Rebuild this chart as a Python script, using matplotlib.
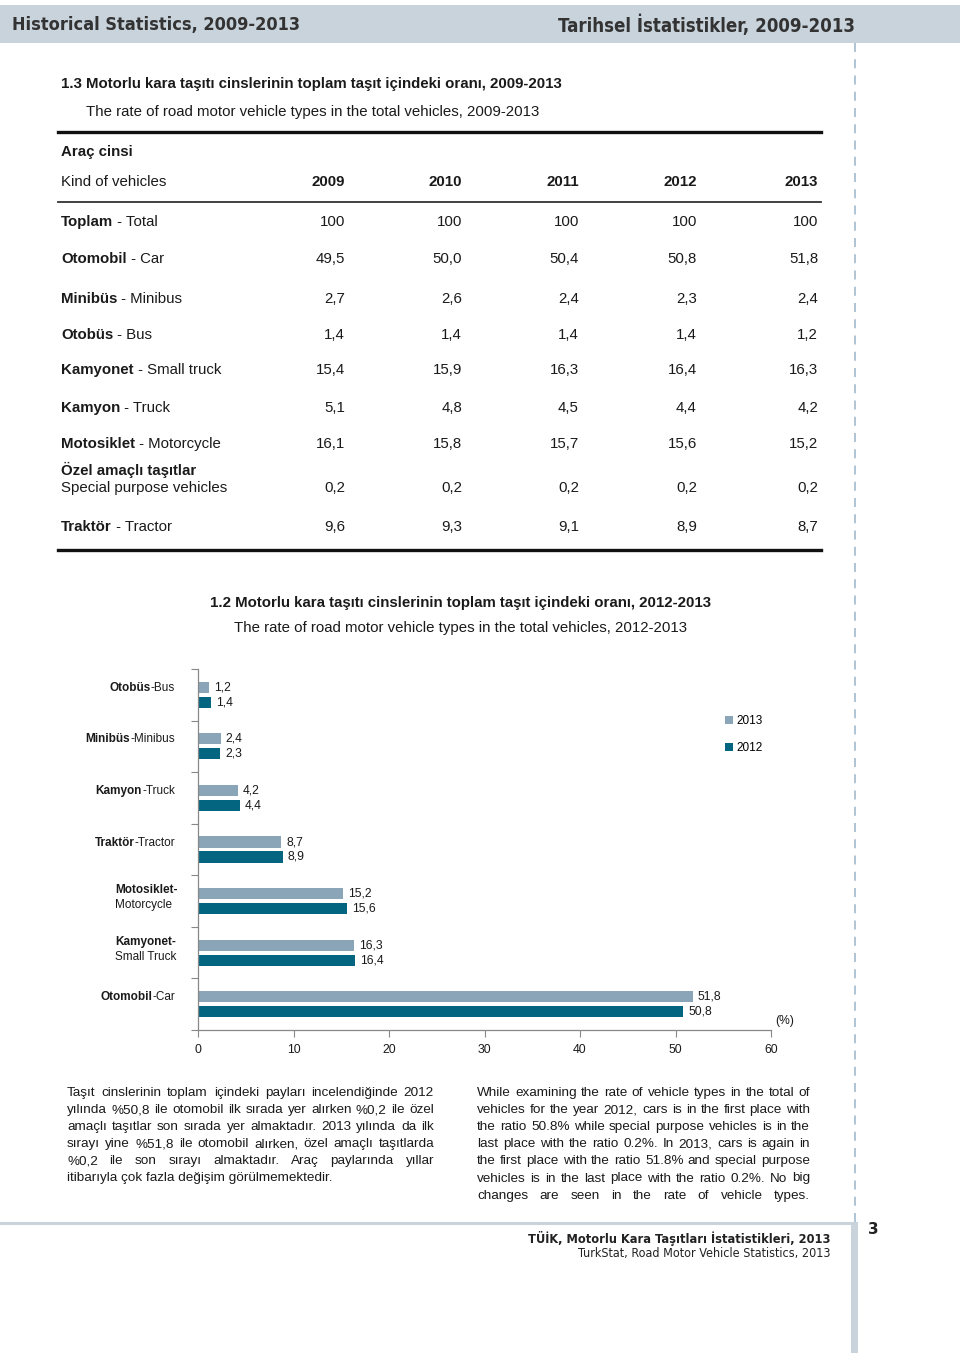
import matplotlib
matplotlib.use("Agg")
import matplotlib.pyplot as plt
import numpy as np
from matplotlib.patches import Rectangle

plt.rcParams['font.family'] = ['Liberation Sans', 'DejaVu Sans']

# ---------------- data ----------------
years = [2009, 2010, 2011, 2012, 2013]
row_tr = ["Toplam", "Otomobil", "Minibüs", "Otobüs", "Kamyonet", "Kamyon",
          "Motosiklet", "Özel amaçlı taşıtlar", "Traktör"]
row_en = ["Total", "Car", "Minibus", "Bus", "Small truck", "Truck",
          "Motorcycle", "Special purpose vehicles", "Tractor"]
val_2009 = [100, 49.5, 2.7, 1.4, 15.4, 5.1, 16.1, 0.2, 9.6]
val_2010 = [100, 50.0, 2.6, 1.4, 15.9, 4.8, 15.8, 0.2, 9.3]
val_2011 = [100, 50.4, 2.4, 1.4, 16.3, 4.5, 15.7, 0.2, 9.1]
val_2012 = [100, 50.8, 2.3, 1.4, 16.4, 4.4, 15.6, 0.2, 8.9]
val_2013 = [100, 51.8, 2.4, 1.2, 16.3, 4.2, 15.2, 0.2, 8.7]

chart_tr = ["Otobüs", "Minibüs", "Kamyon", "Traktör", "Motosiklet", "Kamyonet", "Otomobil"]
chart_en = ["Bus", "Minibus", "Truck", "Tractor", "Motorcycle", "Small Truck", "Car"]
share_2013 = [1.2, 2.4, 4.2, 8.7, 15.2, 16.3, 51.8]
share_2012 = [1.4, 2.3, 4.4, 8.9, 15.6, 16.4, 50.8]
x_ticks = [0, 10, 20, 30, 40, 50, 60]

para_tr = [
    "Taşıt cinslerinin toplam içindeki payları incelendiğinde 2012",
    "yılında %50,8 ile otomobil ilk sırada yer alırken %0,2 ile özel",
    "amaçlı taşıtlar son sırada yer almaktadır. 2013 yılında da ilk",
    "sırayı yine %51,8 ile otomobil alırken, özel amaçlı taşıtlarda",
    "%0,2 ile son sırayı almaktadır. Araç paylarında yıllar",
    "itibarıyla çok fazla değişim görülmemektedir.",
]
para_en = [
    "While examining the rate of vehicle types in the total of",
    "vehicles for the year 2012, cars is in the first place with",
    "the ratio 50.8% while special purpose vehicles is in the",
    "last place with the ratio 0.2%. In 2013, cars is again in",
    "the first place with the ratio 51.8% and special purpose",
    "vehicles is in the last place with the ratio 0.2%. No big",
    "changes are seen in the rate of vehicle types.",
]

C13 = "#8aa4b8"
C12 = "#03657f"
BAND = "#c8d3dc"
TXT = "#1a1a1a"


def fmt(v):
    if v == 100:
        return "100"
    return f"{v:.1f}".replace(".", ",")


fig = plt.figure(figsize=(9.6, 13.53), dpi=100)
bg = fig.add_axes([0, 0, 1, 1])
bg.set_xlim(0, 960)
bg.set_ylim(1353, 0)
bg.axis("off")

# ---------------- page frame ----------------
bg.add_patch(Rectangle((0, 5), 960, 38, color=BAND, lw=0))
bg.text(12, 25, "Historical Statistics, 2009-2013", fontsize=13.0, fontweight="bold",
        color="#333333", va="center", family=["DejaVu Sans"], fontstretch="condensed")
bg.text(855, 25, "Tarihsel İstatistikler, 2009-2013", fontsize=13.4, fontweight="bold",
        color="#333333", va="center", ha="right", family=["DejaVu Sans"],
        fontstretch="condensed")
bg.plot([855, 855], [43, 1222], color="#a9bfd0", lw=1.3, dashes=(5, 4))
bg.plot([0, 855], [1223, 1223], color=BAND, lw=2.2)
bg.add_patch(Rectangle((851, 1222), 7, 131, color=BAND, lw=0))
bg.text(868, 1229, "3", fontsize=11, fontweight="bold", color="#222", va="center",
        family=["DejaVu Sans"])
bg.text(830, 1238, "TÜİK, Motorlu Kara Taşıtları İstatistikleri, 2013", fontsize=9.2,
        fontweight="bold", color="#222", va="center", ha="right", family=["DejaVu Sans"],
        fontstretch="condensed")
bg.text(830, 1254, "TurkStat, Road Motor Vehicle Statistics, 2013", fontsize=9.0,
        color="#222", va="center", ha="right", family=["DejaVu Sans"],
        fontstretch="condensed")

# ---------------- table ----------------
FS = 10.8
bg.text(61, 84, "1.3 Motorlu kara taşıtı cinslerinin toplam taşıt içindeki oranı, 2009-2013",
        fontsize=FS, fontweight="bold", color=TXT, va="center")
bg.text(86, 112, "The rate of road motor vehicle types in the total vehicles, 2009-2013",
        fontsize=FS, color=TXT, va="center")
bg.plot([58, 821], [132, 132], color="#111", lw=2.4)
bg.text(61, 152, "Araç cinsi", fontsize=FS, fontweight="bold", color=TXT, va="center")
bg.text(61, 182, "Kind of vehicles", fontsize=FS, color=TXT, va="center")
col_x = [345, 462, 579, 697, 818]
for cx, yr in zip(col_x, years):
    bg.text(cx, 182, str(yr), fontsize=FS, fontweight="bold", color=TXT, va="center", ha="right")
bg.plot([58, 821], [202, 202], color="#333", lw=1.3)
bg.plot([58, 821], [550, 550], color="#111", lw=2.4)

row_y = [222, 259, 299, 335, 370, 408, 444, 488, 527]
columns = [val_2009, val_2010, val_2011, val_2012, val_2013]
for i, (tr, en, ry) in enumerate(zip(row_tr, row_en, row_y)):
    if tr.startswith("Özel"):
        bg.text(61, 470, tr, fontsize=FS, fontweight="bold", color=TXT, va="center")
        bg.text(61, ry, en, fontsize=FS, color=TXT, va="center")
    else:
        t = bg.text(61, ry, tr, fontsize=FS, fontweight="bold", color=TXT, va="center")
        bg.annotate(" - " + en, xy=(1, 0.5), xycoords=t, fontsize=FS, color=TXT,
                    va="center", ha="left")
    for cx, col in zip(col_x, columns):
        bg.text(cx, ry, fmt(col[i]), fontsize=FS, color=TXT, va="center", ha="right")

# ---------------- chart ----------------
bg.text(460, 603, "1.2 Motorlu kara taşıtı cinslerinin toplam taşıt içindeki oranı, 2012-2013",
        fontsize=FS, fontweight="bold", color=TXT, va="center", ha="center")
bg.text(460, 628, "The rate of road motor vehicle types in the total vehicles, 2012-2013",
        fontsize=FS, color=TXT, va="center", ha="center")

W, H = 960, 1353
ax = fig.add_axes([198 / W, 1 - 1030 / H, (771 - 198) / W, (1030 - 669) / H])
ax.patch.set_alpha(0)
pos = np.arange(len(chart_tr))
bh = 0.215
off = 0.145
b13 = ax.barh(pos - off, share_2013, height=bh, color=C13, label="2013")
b12 = ax.barh(pos + off, share_2012, height=bh, color=C12, label="2012")
ax.set_xlim(0, 60)
ax.set_ylim(len(chart_tr) - 0.5, -0.5)
for bars, vals in ((b13, share_2013), (b12, share_2012)):
    for rect, v in zip(bars, vals):
        ax.annotate(fmt(v), xy=(v, rect.get_y() + rect.get_height() / 2),
                    xytext=(5, 0), textcoords="offset pixels", va="center", ha="left",
                    fontsize=8.7, color=TXT)

ax.set_xticks(x_ticks)
ax.set_xticklabels([str(t) for t in x_ticks], fontsize=8.8, color=TXT)
ax.set_yticks(np.arange(-0.5, len(chart_tr), 1.0))
ax.set_yticklabels([])
ax.tick_params(axis="x", direction="out", length=5, color="#888", pad=5)
ax.tick_params(axis="y", direction="out", length=5, color="#888")
for s in ("top", "right"):
    ax.spines[s].set_visible(False)
for s in ("left", "bottom"):
    ax.spines[s].set_color("#888")
    ax.spines[s].set_linewidth(0.9)

# category labels (bold Turkish part + regular English part)
for i, (tr, en) in enumerate(zip(chart_tr, chart_en)):
    if tr in ("Motosiklet", "Kamyonet"):
        ax.annotate(tr + "-", xy=(0, i), xycoords=("axes fraction", "data"),
                    xytext=(-83, 11), textcoords="offset pixels", ha="left", va="center",
                    fontsize=8.5, fontweight="bold", color=TXT)
        ax.annotate(en, xy=(0, i), xycoords=("axes fraction", "data"),
                    xytext=(-83, -4), textcoords="offset pixels", ha="left", va="center",
                    fontsize=8.5, color=TXT)
    else:
        t = ax.annotate("-" + en, xy=(0, i), xycoords=("axes fraction", "data"),
                        xytext=(-23, 7), textcoords="offset pixels", ha="right", va="center",
                        fontsize=8.5, color=TXT)
        ax.annotate(tr, xy=(0, 0.5), xycoords=t, ha="right", va="center",
                    fontsize=8.5, fontweight="bold", color=TXT)

ax.annotate("(%)", xy=(1, 0), xycoords="axes fraction", xytext=(4, 9),
            textcoords="offset pixels", fontsize=8.7, color=TXT, ha="left", va="center")

ax.legend(handles=[b13, b12], loc="upper left", bbox_to_anchor=(0.92, 0.872),
          frameon=False, fontsize=8.5, handlelength=0.7, handleheight=0.7,
          handletextpad=0.25, labelspacing=1.25, borderpad=0, borderaxespad=0)

# ---------------- paragraphs (justified) ----------------
renderer = fig.canvas.get_renderer()


def justified(lines, x0, x1, y0, dy, fs, justify_last):
    for k, line in enumerate(lines):
        y = y0 + k * dy
        words = line.split()
        last = k == len(lines) - 1
        if (last and not justify_last) or len(words) == 1:
            bg.text(x0, y, line, fontsize=fs, color=TXT, va="center", ha="left")
            continue
        arts = [bg.text(0, y, w, fontsize=fs, color=TXT, va="center", ha="left") for w in words]
        widths = [a.get_window_extent(renderer).width for a in arts]
        gap = (x1 - x0 - sum(widths)) / (len(words) - 1)
        x = x0
        for a, w in zip(arts, widths):
            a.set_x(x)
            x += w + gap


justified(para_tr, 67, 434, 1093, 17.1, 9.7, False)
justified(para_en, 477, 810, 1093, 17.1, 9.7, True)

fig.savefig("out.png", dpi=100)
